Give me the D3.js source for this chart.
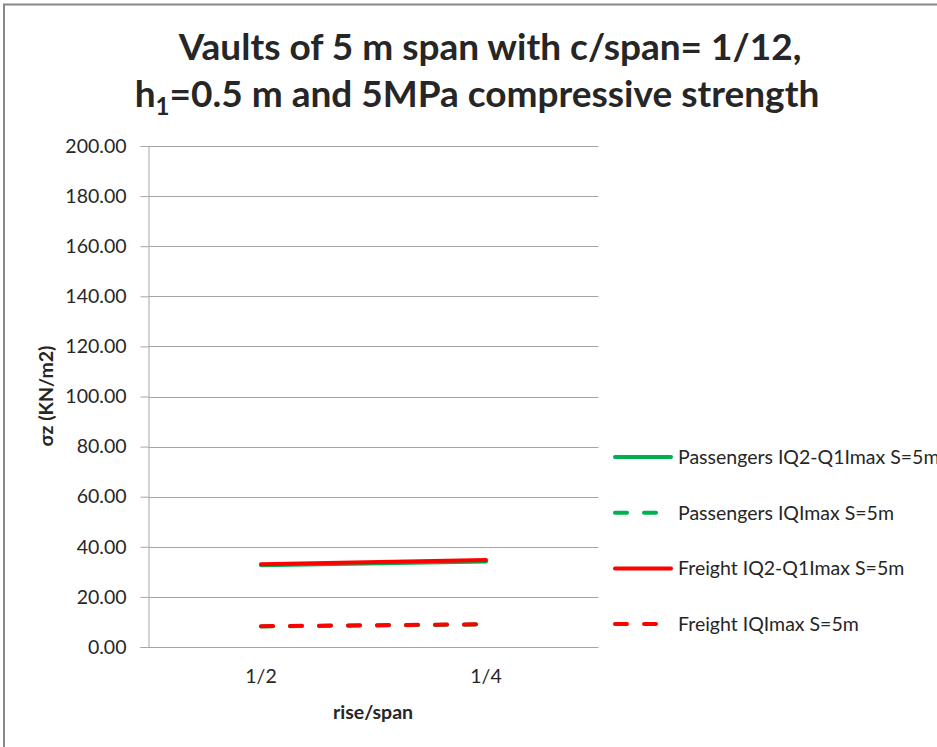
<!DOCTYPE html>
<html>
<head>
<meta charset="utf-8">
<script src="https://cdn.jsdelivr.net/npm/d3@7"></script>
<style>
  body { margin: 0; background: #fff; overflow: hidden; }
  text { font-family: Lato, "Open Sans", sans-serif; fill: #262626; }
</style>
</head>
<body>
<svg id="chart" width="937" height="747"></svg>
<script>
const categories = ["1/2", "1/4"];
const yTicks = [0, 20, 40, 60, 80, 100, 120, 140, 160, 180, 200];

const seriesNames = [
  "Passengers IQ2-Q1Imax S=5m",
  "Passengers IQImax S=5m",
  "Freight IQ2-Q1Imax S=5m",
  "Freight IQImax S=5m"
];
const passengersQ2Q1 = [32.6, 34.1];
const passengersIQ = [8.2, 9.0];
const freightQ2Q1 = [33.0, 34.7];
const freightIQ = [8.3, 9.1];

const seriesColors = ["#00b050", "#00b050", "#ff0000", "#ff0000"];
const seriesDash = [null, "12,17", null, "12,17"];

let svg = d3.select("#chart");

let margin = {left: 148.5, top: 146, right: 598.5, bottom: 647};

// frame around the chart
svg.append("path")
    .attr("d", "M4,747 L4,4.5 L937,4.5")
    .attr("fill", "none")
    .attr("stroke", "#888")
    .attr("stroke-width", 2);

let x = d3.scaleBand().domain(categories).range([margin.left, margin.right]);
let y = d3.scaleLinear().domain([0, 200]).range([margin.bottom, margin.top]);

// gridlines
svg.append("g").selectAll("line").data(yTicks.slice(1)).enter().append("line")
    .attr("x1", margin.left).attr("x2", margin.right)
    .attr("y1", d => Math.round(y(d)) + 0.5).attr("y2", d => Math.round(y(d)) + 0.5)
    .attr("stroke", "#a6a6a6").attr("stroke-width", 1);

// y axis
let yAxis = svg.append("g").attr("transform", "translate(" + margin.left + ",0)")
    .call(d3.axisLeft(y).tickValues(yTicks).tickSize(8).tickPadding(14)
        .tickFormat(d3.format(".2f")));
yAxis.select(".domain").attr("stroke", "#a6a6a6");
yAxis.selectAll(".tick line").attr("stroke", "#a6a6a6");
yAxis.selectAll("text").style("font-size", "19.5px").attr("fill", "#262626")
    .attr("font-family", "Lato, sans-serif");

// x axis
let xAxis = svg.append("g").attr("transform", "translate(0," + (margin.bottom + 0.5) + ")")
    .call(d3.axisBottom(x).tickSize(0).tickPadding(22));
xAxis.select(".domain").attr("stroke", "#a6a6a6").attr("d",
    "M" + (margin.left - 8) + ",0H" + margin.right);
xAxis.selectAll("text").style("font-size", "19.5px").attr("fill", "#262626")
    .attr("font-family", "Lato, sans-serif");

// lines
let allSeries = [passengersQ2Q1, passengersIQ, freightQ2Q1, freightIQ];
let line = d3.line()
    .x((d, i) => x(categories[i]) + x.bandwidth() / 2)
    .y(d => y(d));

for (let i = 0; i < allSeries.length; i++) {
    svg.append("path")
        .datum(allSeries[i])
        .attr("d", line)
        .attr("fill", "none")
        .attr("stroke", seriesColors[i])
        .attr("stroke-width", 4)
        .attr("stroke-linecap", "round")
        .attr("stroke-dasharray", seriesDash[i]);
}

// legend
let legend = svg.append("g");
for (let i = 0; i < seriesNames.length; i++) {
    let ly = 457 + i * 55.7;
    legend.append("line")
        .attr("x1", 615).attr("x2", 671)
        .attr("y1", ly).attr("y2", ly)
        .attr("stroke", seriesColors[i])
        .attr("stroke-width", 4)
        .attr("stroke-linecap", "round")
        .attr("stroke-dasharray", seriesDash[i]);
    legend.append("text")
        .attr("x", 678).attr("y", ly + 7)
        .style("font-size", "19.5px")
        .text(seriesNames[i]);
}

// title
let title = svg.append("text")
    .attr("text-anchor", "middle")
    .style("font-size", "37px")
    .style("font-weight", "bold")
    .attr("fill", "#000");
title.append("tspan").attr("x", 490).attr("y", 60)
    .text("Vaults of 5 m span with c/span= 1/12,");
let t2 = title.append("tspan").attr("x", 477).attr("y", 107);
t2.append("tspan").text("h");
t2.append("tspan").attr("dy", 8).style("font-size", "24px").text("1");
t2.append("tspan").attr("dy", -8).text("=0.5 m and 5MPa compressive strength");

// axis titles
svg.append("text")
    .attr("transform", "translate(53,396) rotate(-90)")
    .attr("text-anchor", "middle")
    .style("font-size", "19.5px")
    .style("font-weight", "bold")
    .text("σz (KN/m2)");

svg.append("text")
    .attr("x", 373).attr("y", 719)
    .attr("text-anchor", "middle")
    .style("font-size", "19.5px")
    .style("font-weight", "bold")
    .text("rise/span");
</script>
</body>
</html>
